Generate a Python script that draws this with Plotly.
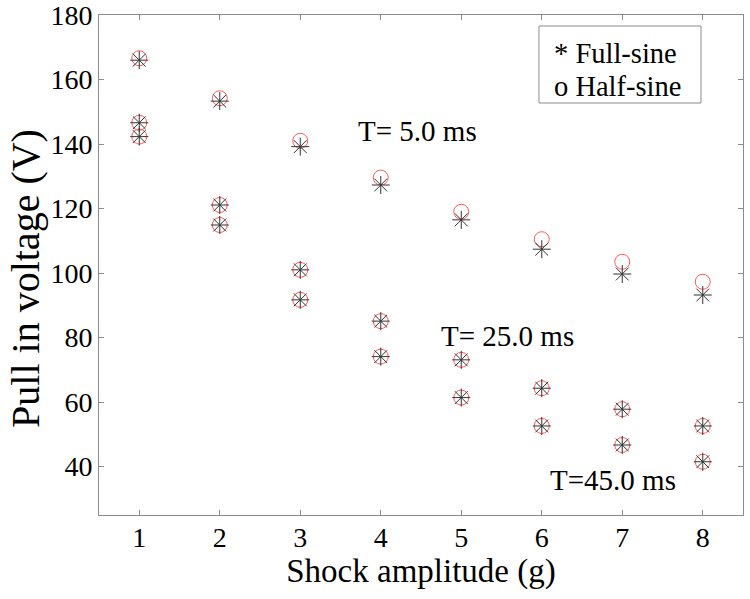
import plotly.graph_objects as go

# Data
amplitude = [1, 2, 3, 4, 5, 6, 7, 8]

full_T5 = [166.0, 153.3, 139.2, 127.3, 116.5, 107.4, 99.7, 93.2]
half_T5 = [166.6, 154.2, 141.0, 129.6, 119.0, 110.5, 103.5, 97.3]
full_T25 = [146.6, 121.1, 101.0, 85.1, 73.1, 64.3, 57.8, 52.6]
half_T25 = [146.6, 121.1, 101.0, 85.1, 73.1, 64.3, 57.8, 52.6]
full_T45 = [142.3, 114.9, 91.7, 74.1, 61.4, 52.6, 46.7, 41.5]
half_T45 = [142.3, 114.9, 91.7, 74.1, 61.4, 52.6, 46.7, 41.5]

x_ticks = [1, 2, 3, 4, 5, 6, 7, 8]
y_ticks = [40, 60, 80, 100, 120, 140, 160, 180]

FONT = "Liberation Serif, Times New Roman, serif"

xs = amplitude * 3
half_all = half_T5 + half_T25 + half_T45
full_all = full_T5 + full_T25 + full_T45

fig = go.Figure()
fig.add_trace(go.Scatter(
    x=xs, y=half_all, mode="markers", name="Half-sine",
    marker=dict(symbol="circle-open", size=15, color="#ff5a5a",
                line=dict(width=1, color="#ff5a5a")),
))
fig.add_trace(go.Scatter(
    x=xs, y=full_all, mode="markers", name="Full-sine",
    marker=dict(symbol="asterisk-open", size=15, color="#333333",
                line=dict(width=1, color="#333333")),
))

axis_common = dict(
    showline=True, linecolor="#8c8c8c", linewidth=1, mirror="ticks",
    ticks="inside", ticklen=5, tickcolor="#8c8c8c", tickwidth=1,
    showgrid=False, zeroline=False, ticklabeloverflow="allow",
    tickfont=dict(family=FONT, size=28, color="black"),
)

fig.update_xaxes(range=[0.5, 8.5], tickvals=x_ticks, ticklabelstandoff=-3,
                 title=dict(text="Shock amplitude (g)",
                            font=dict(family=FONT, size=33, color="black"),
                            standoff=5),
                 **axis_common)
fig.update_yaxes(range=[25, 180], tickvals=y_ticks, **axis_common)

# y-axis title (placed as rotated text to match its offset position)
fig.add_annotation(x=-0.115, y=0.474, xref="paper", yref="paper",
                   text="Pull in voltage (V)", textangle=-90, showarrow=False,
                   xanchor="center", yanchor="middle",
                   font=dict(family=FONT, size=40, color="black"))

annot_font = dict(family=FONT, size=29, color="black")
fig.add_annotation(x=4.46, y=144.0, xref="x", yref="y", text="T= 5.0 ms",
                   showarrow=False, font=annot_font)
fig.add_annotation(x=5.58, y=80.5, xref="x", yref="y", text="T= 25.0 ms",
                   showarrow=False, font=annot_font)
fig.add_annotation(x=6.89, y=35.9, xref="x", yref="y", text="T=45.0 ms",
                   showarrow=False, font=annot_font)

# Text legend box
fig.add_shape(type="rect", xref="paper", yref="paper",
              x0=0.6832, x1=0.9348, y0=0.824, y1=0.978,
              line=dict(color="#8c8c8c", width=1), fillcolor="white")
leg_font = dict(family=FONT, size=28.5, color="black")
fig.add_annotation(x=0.7034, y=0.922, xref="paper", yref="paper",
                   text="* Full-sine", showarrow=False, xanchor="left",
                   yanchor="middle", font=leg_font)
fig.add_annotation(x=0.7034, y=0.858, xref="paper", yref="paper",
                   text="o Half-sine", showarrow=False, xanchor="left",
                   yanchor="middle", font=leg_font)

fig.update_layout(
    width=750, height=599,
    margin=dict(l=99, r=7, t=15, b=84, autoexpand=False),
    paper_bgcolor="white", plot_bgcolor="white",
    showlegend=False,
)

fig.write_html(
    "out.html",
    config={"displayModeBar": False},
    post_script="document.body.style.margin='0';document.body.style.overflow='hidden';",
)
